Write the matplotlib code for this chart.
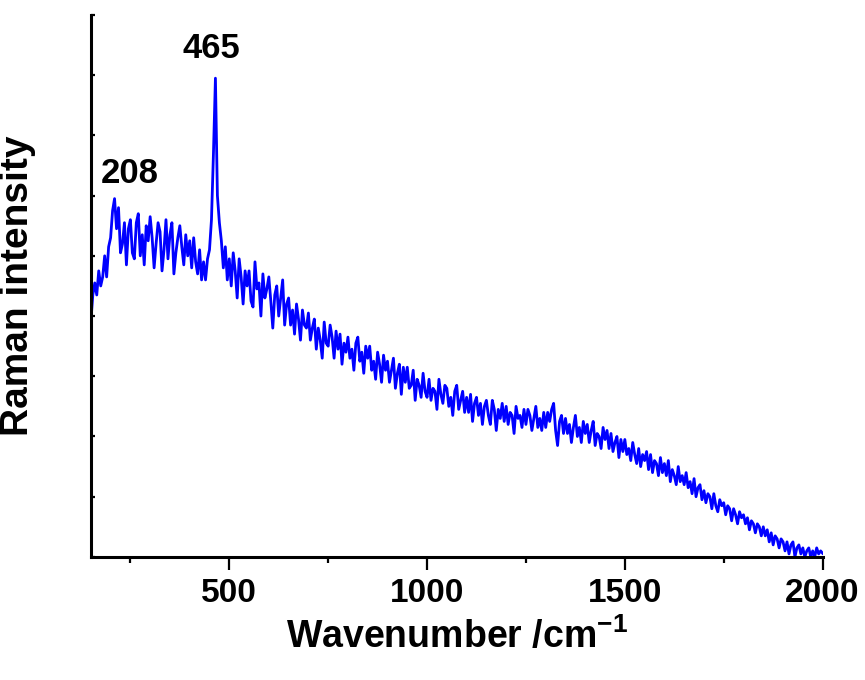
import numpy as np
import matplotlib
matplotlib.use("Agg")
import matplotlib.pyplot as plt

plt.rcParams.update({
    "font.family": ["Liberation Sans", "DejaVu Sans"],
    "font.weight": "bold",
    "mathtext.fontset": "custom",
    "mathtext.rm": "Liberation Sans:bold",
    "mathtext.bf": "Liberation Sans:bold",
    "mathtext.default": "rm",
})

# Raman spectrum, 5 cm-1 steps from 150 to 2000
wavenumber = np.arange(150, 2001, 5)
intensity = [
    3900, 4350, 4550, 4350, 4750, 4500, 4650, 5000, 4650, 5150,
    5300, 5750, 5950, 5450, 5800, 5050, 5200, 5550, 4850, 5450,
    5600, 5050, 4950, 5550, 5700, 5000, 5350, 4850, 5500, 5250,
    5650, 5300, 4800, 5200, 5550, 5400, 4750, 5100, 5600, 4950,
    5350, 5550, 4700, 5050, 5300, 5500, 5150, 4850, 5350, 5000,
    5250, 4800, 5300, 4900, 4700, 5100, 4600, 4900, 4600, 4950,
    5100, 5600, 6700, 7950, 6000, 5550, 5250, 4800, 5150, 4600,
    4950, 4500, 5050, 4750, 4300, 4950, 4650, 4200, 4750, 4500,
    4750, 4250, 4150, 4900, 4450, 4550, 4000, 4700, 4300, 4450,
    4650, 4250, 3800, 4350, 4500, 4000, 4300, 4600, 3850, 4200,
    4300, 3850, 4100, 3700, 4200, 3950, 3600, 4100, 3850, 3800,
    4050, 3600, 3800, 3950, 3450, 3800, 3600, 3300, 3900, 3550,
    3500, 3850, 3650, 3300, 3750, 3450, 3700, 3200, 3550, 3400,
    3650, 3300, 3450, 3100, 3550, 3650, 3250, 3400, 3050, 3500,
    3300, 3500, 3100, 3250, 2950, 3400, 3200, 2900, 3350, 3100,
    3250, 2900, 3100, 3300, 2800, 3050, 3200, 2700, 3150, 2900,
    3150, 2800, 2850, 3100, 2600, 2950, 2850, 2650, 3050, 2750,
    2650, 2950, 2600, 2800, 2750, 2450, 2950, 2700, 2550, 2850,
    2800, 2500, 2650, 2350, 2750, 2850, 2450, 2600, 2750, 2400,
    2650, 2400, 2700, 2250, 2550, 2650, 2350, 2550, 2200, 2500,
    2600, 2350, 2200, 2600, 2450, 2100, 2450, 2300, 2550, 2250,
    2500, 2200, 2400, 2350, 2050, 2500, 2300, 2350, 2150, 2450,
    2200, 2450, 2350, 2100, 2300, 2500, 2150, 2300, 2100, 2400,
    2150, 2400, 2250, 2450, 2550, 2100, 1850, 2250, 2350, 2050,
    2300, 2050, 2200, 1900, 2150, 2350, 2000, 2150, 1900, 2250,
    2050, 2200, 1900, 2100, 2250, 1850, 2050, 2000, 1800, 2150,
    1950, 2100, 1800, 2050, 1750, 1900, 2000, 1650, 1950, 1750,
    1950, 1700, 1800, 1600, 1900, 1700, 1550, 1800, 1500, 1700,
    1600, 1750, 1450, 1700, 1400, 1600, 1550, 1350, 1650, 1400,
    1550, 1350, 1600, 1250, 1450, 1350, 1200, 1500, 1250, 1350,
    1200, 1400, 1150, 1250, 1050, 1300, 1000, 1150, 1200, 950,
    1100, 900, 1050, 1000, 800, 1050, 850, 750, 950, 850,
    900, 700, 850, 800, 600, 800, 700, 550, 750, 650,
    700, 550, 650, 450, 600, 550, 400, 550, 500, 350,
    500, 350, 450, 250, 400, 200, 350, 300, 150, 300,
    250, 100, 250, 50, 200, 250, 0, 150, 200, 50,
    150, 0, 100, 150, 0, 100, 0, 150, 50, 100,
    60,
]

peak_labels = ["208", "465"]
peak_label_x = [249, 456]
peak_label_y = [6210, 8280]

fig = plt.figure(figsize=(8.65, 6.8), dpi=100)
ax = fig.add_axes([0.105, 0.181, 0.846, 0.797])

ax.plot(wavenumber, intensity, color="#0000ff", linewidth=2.0)

for lab, lx, ly in zip(peak_labels, peak_label_x, peak_label_y):
    ax.text(lx, ly, lab, ha="center", va="baseline", fontsize=25, fontweight="bold")

ax.set_xlim(150, 2000)
ax.set_ylim(0, 9000)
ax.set_xticks([500, 1000, 1500, 2000])
ax.set_xticks([250, 750, 1250, 1750], minor=True)
ax.set_yticks(np.arange(0, 9001, 1000))
ax.set_yticklabels([])

for side in ["top", "right"]:
    ax.spines[side].set_visible(False)
for side in ["left", "bottom"]:
    ax.spines[side].set_linewidth(2.2)

ax.tick_params(axis="x", which="major", direction="out", length=9, width=1.6,
               labelsize=24, pad=6)
ax.tick_params(axis="x", which="minor", direction="out", length=4.5, width=1.6)
ax.tick_params(axis="y", which="major", direction="in", length=3, width=1.6)

ax.set_xlabel("Wavenumber /cm$^{-1}$", fontsize=27, fontweight="bold", labelpad=6)
ax.set_ylabel("Raman intensity", fontsize=28, fontweight="bold", labelpad=36)

fig.savefig("out.png", dpi=100)
